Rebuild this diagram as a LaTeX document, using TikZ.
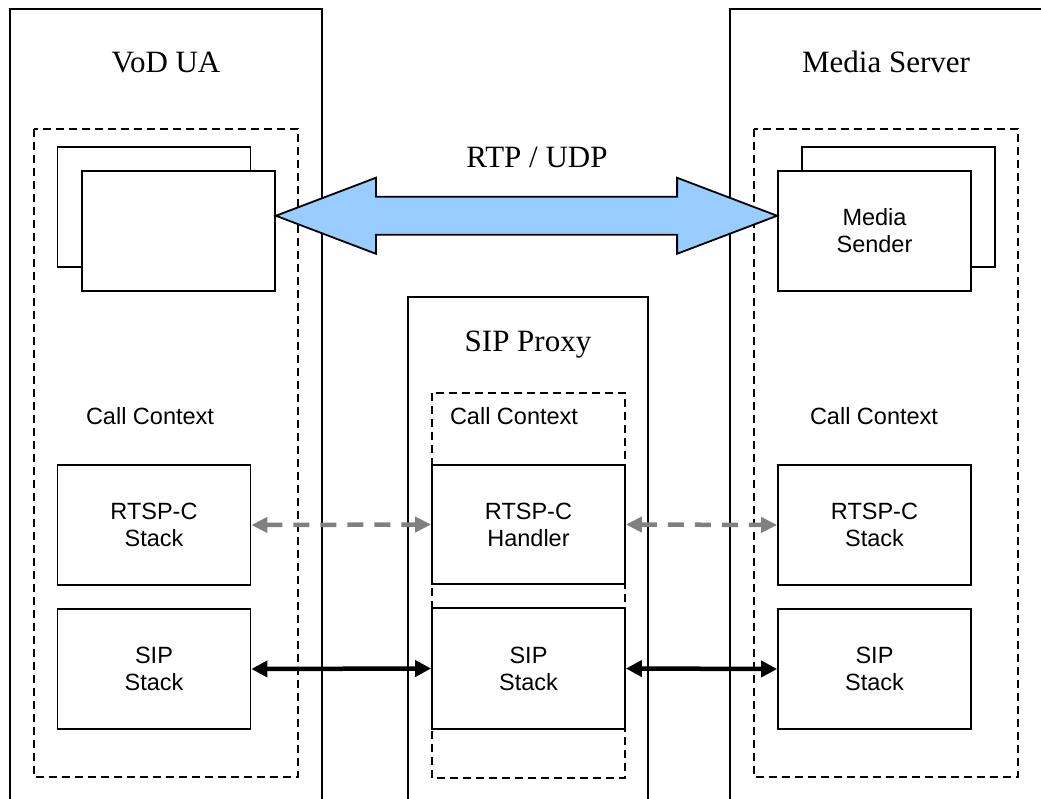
\documentclass[tikz,border=0pt]{standalone}
\usepackage{fontspec}
\setmainfont{Liberation Serif}
\newfontfamily\boxfont{Liberation Sans}
\usetikzlibrary{arrows.meta,calc}
\definecolor{rtpblue}{RGB}{153,204,255}
\definecolor{linkgray}{RGB}{128,128,128}

\begin{document}
\begin{tikzpicture}[x=1pt,y=-1pt,
  hostframe/.style={line width=1.4pt},
  ctxframe/.style={line width=1.3pt, dash pattern=on 8pt off 5pt},
  module/.style={draw, line width=1.8pt, fill=white, minimum width=193pt,
    minimum height=120pt, inner sep=0pt, align=center,
    font=\boxfont\fontsize{23.5}{27}\selectfont},
  title/.style={font=\fontsize{31}{36}\selectfont, inner sep=0pt, anchor=base},
  ctxlabel/.style={font=\boxfont\fontsize{23.5}{27}\selectfont, inner sep=0pt, anchor=base},
  rtsplink/.style={linkgray, line width=4.5pt, dash pattern=on 16pt off 11pt,
    {Triangle[length=16pt,width=15pt]}-{Triangle[length=16pt,width=15pt]}},
  siplink/.style={black, line width=4.5pt,
    {Triangle[length=16pt,width=16pt]}-{Triangle[length=16pt,width=16pt]}}
]
\useasboundingbox (0,0) rectangle (1041,799);
\clip (0,0) rectangle (1041,799);

% host frames (open at the bottom / right edge)
\draw[hostframe] (10,810) -- (10,9) -- (322,9) -- (322,810);
\draw[hostframe] (730,810) -- (730,9) -- (1060,9);
\draw[hostframe] (408,810) -- (408,297) -- (648,297) -- (648,810);

\node[title] (uatitle) at (166,73) {VoD UA};
\node[title] (mstitle) at (886,73) {Media Server};
\node[title] (pxtitle) at (528,352) {SIP Proxy};

% call contexts
\draw[ctxframe] (34,129) rectangle (298,777);
\draw[ctxframe] (754,129) rectangle (1018,777);
\draw[ctxframe] (432,393) rectangle (625,778);

\node[ctxlabel] (uactx) at (150,424) {Call Context};
\node[ctxlabel] (pxctx) at (514,424) {Call Context};
\node[ctxlabel] (msctx) at (874,424) {Call Context};

% media endpoints
\node[module] (uback) at (154,207) {};
\node[module] (ufront) at (178.5,231) {};
\node[module] (sback) at (898.5,207) {};
\node[module] (sfront) at (874.5,231) {Media\\Sender};

% protocol stacks
\node[module] (urtsp) at (154,525) {RTSP-C\\Stack};
\node[module] (usip) at (154,669) {SIP\\Stack};
\node[module, minimum height=119pt] (prtsp) at (528.5,524.5) {RTSP-C\\Handler};
\node[module, minimum height=121pt] (psip) at (528.5,668.5) {SIP\\Stack};
\node[module] (srtsp) at (874.5,525) {RTSP-C\\Stack};
\node[module] (ssip) at (874.5,669) {SIP\\Stack};

% signalling links
\draw[rtsplink] (urtsp.east) -- (prtsp.west);
\draw[rtsplink] (prtsp.east) -- (srtsp.west);
\draw[siplink] (usip.east) -- (psip.west);
\draw[siplink] (psip.east) -- (ssip.west);

% RTP media stream
\coordinate (rtpL) at ($(ufront.north east)!0.375!(ufront.south east)$);
\coordinate (rtpR) at ($(sfront.north west)!0.375!(sfront.south west)$);
\draw[line width=1.8pt, fill=rtpblue, line join=miter]
  (rtpL) -- ++(100,-38) -- ++(0,19) -- ($(rtpR)+(-100,-19)$) -- ++(0,-19)
  -- (rtpR) -- ++(-100,38) -- ++(0,-19) -- ($(rtpL)+(100,19)$) -- ++(0,19) -- cycle;
\node[title] (rtplabel) at (537,168) {RTP / UDP};
\end{tikzpicture}
\end{document}
